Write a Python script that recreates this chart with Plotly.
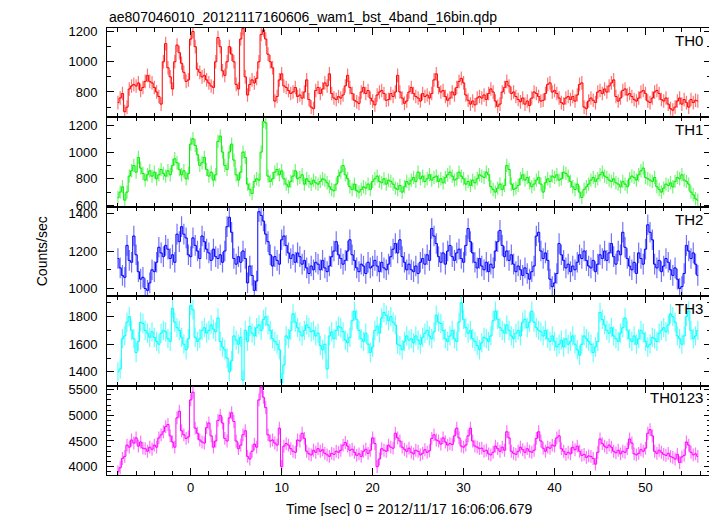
import plotly.graph_objects as go
from plotly.subplots import make_subplots

# ---- data (count rates, 0.25 s bins starting at t = -8.0 s) ----
T0 = -8.0
BIN = 0.25

TH0 = [
    730, 760, 790, 670, 700, 820, 840, 850, 840, 860, 810, 830, 870, 910, 870, 860,
    830, 800, 770, 720, 1000, 1120, 960, 900, 820, 1000, 1110, 1060, 990, 930, 870, 880,
    1150, 1200, 1100, 950, 930, 900, 910, 880, 860, 840, 830, 1000, 1160, 1100, 940, 910,
    1000, 1100, 1050, 1000, 850, 820, 1150, 1220, 900, 780, 850, 880, 860, 890, 1000, 1180,
    1210, 1150, 1050, 1000, 960, 740, 770, 880, 920, 840, 830, 810, 790, 800, 830, 770,
    780, 760, 800, 880, 750, 700, 690, 810, 830, 790, 820, 860, 840, 920, 790, 760,
    750, 770, 760, 780, 840, 910, 830, 790, 745, 735, 725, 800, 830, 790, 810, 760,
    740, 715, 780, 800, 810, 790, 745, 750, 790, 770, 800, 910, 800, 760, 725, 740,
    800, 830, 790, 770, 760, 740, 790, 770, 780, 760, 790, 880, 920, 830, 800, 810,
    770, 745, 760, 800, 780, 830, 870, 890, 860, 780, 745, 720, 740, 715, 760, 770,
    760, 780, 750, 790, 820, 800, 740, 705, 720, 800, 830, 870, 840, 790, 800, 770,
    750, 735, 760, 720, 740, 710, 760, 800, 790, 770, 740, 745, 790, 850, 860, 800,
    810, 790, 760, 730, 720, 760, 770, 750, 770, 740, 780, 850, 860, 700, 690, 740,
    760, 745, 730, 800, 810, 790, 820, 800, 840, 860, 880, 770, 740, 760, 810, 820,
    780, 790, 770, 750, 740, 760, 800, 810, 790, 740, 730, 760, 800, 810, 790, 750,
    740, 760, 720, 690, 680, 700, 740, 760, 720, 750, 730, 700, 750, 730, 745, 740,
]

TH1 = [
    660, 700, 740, 640, 700, 820, 860, 900, 850, 960, 880, 840, 790, 830, 860, 820,
    850, 800, 830, 870, 840, 820, 860, 830, 900, 950, 920, 870, 830, 860, 800, 840,
    1060, 1100, 1050, 980, 900, 920, 960, 870, 820, 850, 790, 830, 1080, 1120, 1000, 900,
    870, 1000, 1060, 940, 830, 790, 850, 1000, 960, 760, 720, 690, 780, 800, 790, 1000,
    1230, 1220, 820, 780, 800, 850, 870, 830, 860, 800, 760, 740, 780, 820, 860, 800,
    810, 830, 760, 800, 780, 760, 790, 770, 760, 780, 800, 790, 770, 740, 720, 710,
    760, 820, 850, 900, 830, 800, 740, 720, 760, 710, 700, 720, 740, 730, 760, 720,
    780, 800, 820, 780, 770, 800, 760, 790, 780, 760, 730, 720, 750, 700, 740, 780,
    760, 790, 810, 780, 850, 800, 820, 780, 800, 830, 790, 810, 820, 780, 800, 770,
    810, 830, 850, 820, 790, 800, 850, 820, 800, 760, 780, 750, 790, 770, 800, 830,
    820, 810, 850, 830, 740, 720, 700, 730, 760, 720, 750, 900, 870, 760, 720, 730,
    750, 800, 830, 790, 810, 770, 740, 760, 790, 810, 760, 700, 770, 800, 780, 820,
    810, 830, 790, 800, 850, 840, 820, 780, 740, 720, 760, 700, 660, 720, 740, 760,
    790, 810, 780, 800, 830, 850, 820, 810, 790, 780, 800, 770, 760, 740, 780, 760,
    740, 800, 820, 810, 790, 830, 860, 880, 810, 800, 790, 780, 810, 740, 720, 700,
    730, 760, 750, 770, 740, 780, 810, 800, 830, 790, 780, 760, 700, 680, 650, 640,
]

TH2 = [
    1160, 1110, 1070, 1060, 1230, 1150, 1140, 1280, 1180, 1090, 1050, 1060, 1000, 990, 1030, 1100,
    1090, 1140, 1220, 1190, 1170, 1230, 1210, 1160, 1180, 1140, 1290, 1250, 1330, 1290, 1270, 1180,
    1170, 1270, 1230, 1200, 1160, 1280, 1250, 1210, 1190, 1150, 1210, 1170, 1160, 1180, 1140, 1200,
    1330, 1380, 1300, 1160, 1130, 1170, 1140, 1200, 1160, 1030, 1120, 1070, 990, 1040, 1410, 1390,
    1360, 1290, 1250, 1180, 1120, 1170, 1150, 1130, 1260, 1280, 1230, 1190, 1160, 1180, 1140, 1190,
    1170, 1130, 1150, 1110, 1080, 1120, 1100, 1140, 1130, 1100, 1150, 1110, 1090, 1120, 1170, 1200,
    1250, 1180, 1160, 1130, 1150, 1200, 1260, 1180, 1150, 1110, 1090, 1130, 1120, 1080, 1140, 1110,
    1120, 1150, 1120, 1090, 1140, 1110, 1100, 1130, 1170, 1210, 1240, 1190, 1260, 1170, 1140, 1100,
    1130, 1100, 1090, 1120, 1080, 1140, 1160, 1130, 1180, 1150, 1320, 1280, 1240, 1170, 1140, 1190,
    1130, 1200, 1230, 1170, 1150, 1190, 1210, 1160, 1140, 1230, 1320, 1250, 1190, 1140, 1110, 1160,
    1120, 1100, 1140, 1090, 1130, 1110, 1200, 1250, 1310, 1230, 1170, 1200, 1150, 1180, 1130, 1090,
    1120, 1100, 1070, 1110, 1080, 1050, 1090, 1120, 1280, 1300, 1200, 1160, 1190, 1150, 1050, 1010,
    1030, 1080, 1240, 1180, 1150, 1110, 1130, 1090, 1120, 1100, 1140, 1180, 1160, 1200, 1150, 1120,
    1110, 1150, 1090, 1130, 1180, 1160, 1200, 1150, 1190, 1240, 1170, 1130, 1200, 1180, 1300, 1220,
    1160, 1120, 1100, 1140, 1080, 1190, 1160, 1130, 1210, 1340, 1300, 1260, 1130, 1110, 1150, 1090,
    1120, 1160, 1140, 1100, 1070, 1110, 1050, 1000, 1010, 1080, 1230, 1200, 1160, 1190, 1130, 1070,
]

TH3 = [
    1400, 1420, 1640, 1660, 1760, 1800, 1700, 1640, 1540, 1620, 1760, 1750, 1700, 1680, 1650, 1690,
    1650, 1620, 1600, 1680, 1700, 1690, 1640, 1620, 1860, 1760, 1720, 1700, 1650, 1600, 1560, 1640,
    1880, 1850, 1650, 1620, 1640, 1700, 1720, 1680, 1700, 1740, 1710, 1690, 1790, 1620, 1580, 1560,
    1500, 1400, 1480, 1660, 1630, 1600, 1650, 1340, 1700, 1620, 1730, 1680, 1660, 1720, 1740, 1700,
    1780, 1800, 1740, 1700, 1640, 1620, 1600, 1560, 1320, 1450, 1660, 1640, 1700, 1820, 1760, 1720,
    1690, 1660, 1700, 1740, 1720, 1690, 1700, 1660, 1680, 1590, 1560, 1600, 1420, 1660, 1690, 1640,
    1700, 1730, 1720, 1690, 1630, 1610, 1650, 1770, 1840, 1780, 1700, 1640, 1620, 1680, 1600, 1540,
    1580, 1700, 1730, 1680, 1790, 1830, 1810, 1770, 1800, 1760, 1740, 1600, 1590, 1560, 1620, 1660,
    1630, 1640, 1610, 1660, 1630, 1600, 1650, 1680, 1700, 1660, 1640, 1690, 1810, 1760, 1750, 1700,
    1640, 1620, 1660, 1700, 1640, 1620, 1760, 1900, 1780, 1720, 1680, 1700, 1640, 1620, 1590, 1560,
    1610, 1650, 1640, 1620, 1660, 1770, 1840, 1780, 1720, 1700, 1680, 1740, 1700, 1660, 1640, 1680,
    1700, 1660, 1760, 1780, 1720, 1760, 1840, 1760, 1720, 1700, 1690, 1660, 1700, 1640, 1620, 1660,
    1620, 1580, 1600, 1630, 1580, 1640, 1600, 1620, 1660, 1600, 1560, 1520, 1600, 1660, 1640, 1620,
    1600, 1540, 1580, 1620, 1830, 1780, 1740, 1700, 1680, 1720, 1660, 1640, 1620, 1680, 1720, 1790,
    1700, 1640, 1620, 1660, 1600, 1640, 1700, 1680, 1620, 1580, 1600, 1650, 1640, 1620, 1680, 1700,
    1720, 1690, 1740, 1820, 1800, 1760, 1660, 1640, 1600, 1660, 1800, 1840, 1700, 1640, 1660, 1700,
]

TH0123 = [
    3900, 3980, 4160, 4200, 4420, 4380, 4520, 4460, 4560, 4400, 4480, 4360, 4350, 4300, 4380, 4340,
    4420, 4380, 4560, 4620, 4680, 4780, 4820, 4600, 4480, 4380, 4950, 5080, 4700, 4620, 4550, 4580,
    5300, 5450, 4750, 4650, 4520, 4480, 4460, 4760, 4850, 4600, 4380, 4500, 4900, 5000, 4850, 4550,
    4500, 4950, 5050, 4880, 4500, 4350, 4420, 4620, 4700, 4200, 4150, 4300, 4440, 4380, 5300, 5550,
    5350, 5150, 4620, 4500, 4520, 4460, 4420, 4750, 4000, 4400, 4450, 4420, 4350, 4300, 4280, 4520,
    4500, 4650, 4550, 4300, 4250, 4230, 4320, 4280, 4350, 4300, 4330, 4260, 4230, 4200, 4260, 4240,
    4300, 4280, 4320, 4420, 4470, 4400, 4320, 4340, 4280, 4220, 4250, 4200, 4300, 4340, 4260, 4320,
    4560, 4450, 4000, 4150, 4350, 4320, 4300, 4420, 4380, 4360, 4650, 4560, 4500, 4380, 4340, 4300,
    4360, 4280, 4250, 4320, 4300, 4230, 4260, 4330, 4280, 4310, 4550, 4620, 4520, 4500, 4440, 4560,
    4480, 4420, 4450, 4430, 4600, 4750, 4560, 4400, 4380, 4420, 4600, 4750, 4500, 4400, 4380, 4350,
    4360, 4300, 4320, 4250, 4230, 4280, 4400, 4350, 4300, 4380, 4320, 4680, 4560, 4300, 4260, 4240,
    4300, 4380, 4330, 4280, 4350, 4300, 4280, 4320, 4550, 4680, 4500, 4360, 4300, 4380, 4360, 4420,
    4400, 4560, 4600, 4350, 4300, 4240, 4280, 4250, 4380, 4330, 4400, 4300, 4220, 4240, 4180, 4210,
    4200, 4160, 4050, 4280, 4540, 4450, 4400, 4370, 4420, 4380, 4300, 4270, 4320, 4250, 4300, 4280,
    4350, 4540, 4460, 4250, 4230, 4260, 4330, 4300, 4360, 4650, 4720, 4600, 4300, 4260, 4320, 4280,
    4240, 4220, 4260, 4200, 4180, 4150, 4240, 4080, 4190, 4220, 4480, 4420, 4280, 4230, 4250, 4200,
]

PANEL_NAMES = ["TH0", "TH1", "TH2", "TH3", "TH0123"]
PANEL_DATA = [TH0, TH1, TH2, TH3, TH0123]
PANEL_ERR = [45, 50, 55, 70, 125]
PANEL_COLORS = ["#ff0000", "#00ee00", "#0000ff", "#00ffff", "#ff00ff"]
PANEL_BAR_COLORS = ["rgba(255,0,0,0.55)", "rgba(0,238,0,0.55)", "rgba(0,0,255,0.55)",
                    "rgba(0,255,255,0.6)", "rgba(255,0,255,0.55)"]
PANEL_RANGES = [[632, 1223], [590, 1260], [959, 1436], [1300, 1948], [3838, 5578]]
PANEL_DTICK = [200, 200, 200, 200, 500]
PANEL_MINOR = [100, 100, 100, 100, 100]

TITLE = "ae807046010_20121117160606_wam1_bst_4band_16bin.qdp"
XTITLE = "Time [sec] 0 = 2012/11/17 16:06:06.679"
YTITLE = "Counts/sec"

FONT = "Liberation Sans, Arial, Helvetica, sans-serif"

fig = make_subplots(rows=5, cols=1, shared_xaxes=True, vertical_spacing=0)

for i, (vals, col, bcol, err) in enumerate(zip(PANEL_DATA, PANEL_COLORS, PANEL_BAR_COLORS, PANEL_ERR)):
    xs = [T0 + BIN * k for k in range(len(vals))]
    # error bars
    fig.add_trace(
        go.Scatter(
            x=xs, y=vals, mode="markers",
            marker=dict(size=1, color=bcol),
            error_y=dict(type="constant", value=err, color=bcol, thickness=1.2, width=0),
            showlegend=False, hoverinfo="skip",
        ),
        row=i + 1, col=1,
    )
    # binned step line
    fig.add_trace(
        go.Scatter(
            x=xs, y=vals, mode="lines",
            line=dict(color=col, width=1, shape="hvh"),
            showlegend=False, hoverinfo="skip",
        ),
        row=i + 1, col=1,
    )

for i in range(5):
    fig.update_yaxes(
        range=PANEL_RANGES[i], dtick=PANEL_DTICK[i], tick0=0,
        ticks="inside", ticklen=7, tickcolor="black", tickwidth=1,
        minor=dict(dtick=PANEL_MINOR[i], ticks="inside", ticklen=4, tickcolor="black"),
        showline=True, linecolor="black", linewidth=1, mirror="allticks",
        showgrid=False, zeroline=False,
        tickfont=dict(size=13, family=FONT, color="black"),
        ticklabelstandoff=6,
        row=i + 1, col=1,
    )
    fig.update_xaxes(
        range=[-9.2, 57.2], dtick=10, tick0=0,
        ticks="inside", ticklen=7, tickcolor="black", tickwidth=1,
        minor=dict(dtick=2, ticks="inside", ticklen=4, tickcolor="black"),
        showline=True, linecolor="black", linewidth=1, mirror="allticks",
        showgrid=False, zeroline=False,
        tickfont=dict(size=13, family=FONT, color="black"),
        row=i + 1, col=1,
    )

annotations = []
for i, name in enumerate(PANEL_NAMES):
    annotations.append(dict(
        text=name, xref="paper", yref="paper", x=0.99, y=1 - i / 5 - 0.004,
        xanchor="right", yanchor="top", showarrow=False,
        font=dict(size=15, family=FONT, color="black"),
    ))
annotations.append(dict(
    text=TITLE, xref="paper", yref="paper", x=0.0, y=1.0,
    xanchor="left", yanchor="bottom", yshift=1, showarrow=False,
    font=dict(size=14, family=FONT, color="black"),
))
annotations.append(dict(
    text=XTITLE, xref="paper", yref="paper", x=0.5, y=-0.075,
    xanchor="center", yanchor="middle", showarrow=False,
    font=dict(size=14, family=FONT, color="black"),
))
annotations.append(dict(
    text=YTITLE, xref="paper", yref="paper", x=-0.108, y=0.5,
    xanchor="center", yanchor="middle", textangle=-90, showarrow=False,
    font=dict(size=14, family=FONT, color="black"),
))

# the page body adds an 8 px margin, so the figure is 8 px smaller and shifted
fig.update_layout(
    width=709, height=508,
    margin=dict(l=99, r=6, t=20, b=41),
    plot_bgcolor="white", paper_bgcolor="white",
    font=dict(family=FONT, color="black"),
    annotations=annotations,
)

fig.write_html("out.html")
